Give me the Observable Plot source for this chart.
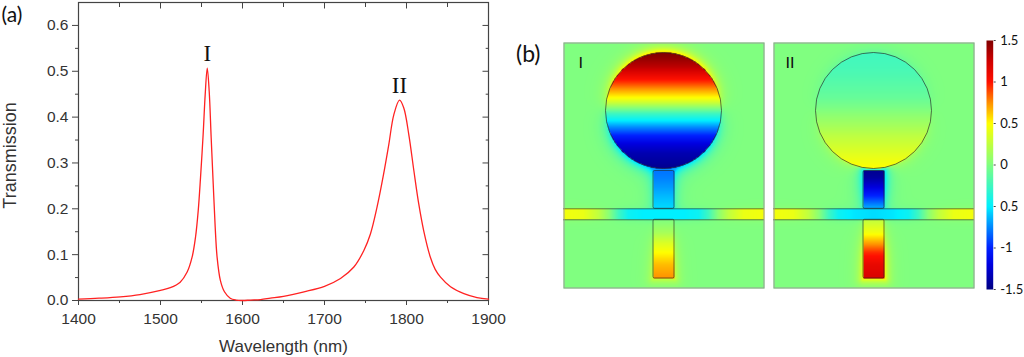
<!DOCTYPE html>
<html><head><meta charset="utf-8">
<script src="https://cdn.jsdelivr.net/npm/d3@7"></script>
<script src="https://cdn.jsdelivr.net/npm/@observablehq/plot@0.6"></script>
<style>
html,body{margin:0;padding:0;background:#fff;}
#root{position:relative;width:1024px;height:357px;overflow:hidden;background:#fff;}
#root > svg{position:absolute;overflow:visible;}
.lab{position:absolute;font-family:Lato,"Open Sans",sans-serif;color:#111;line-height:1;}
</style></head><body><div id="root"></div>
<script>
// ---------------- panel (a): transmission spectrum ----------------
const wavelength = [1400,1425,1451,1475,1500,1512,1524,1532.5,1538.6,1542.7,1546,1548.8,1552,1554.5,1557,1559.4,1561.8,1564.3,1566.7,1569,1573,1578,1585,1592,1600,1610,1622,1634,1650,1675,1700,1719.5,1735.8,1748,1756,1764,1772,1778.4,1784.5,1791.5,1796.7,1802.8,1809,1815,1821,1829,1835,1841.5,1853.7,1870,1886,1900];
const transmission = [0.003,0.005,0.008,0.013,0.022,0.028,0.040,0.062,0.095,0.138,0.196,0.268,0.362,0.449,0.507,0.456,0.355,0.254,0.160,0.095,0.044,0.019,0.005,0.001,0.0,0.001,0.002,0.005,0.009,0.019,0.031,0.048,0.073,0.109,0.145,0.203,0.275,0.340,0.405,0.437,0.420,0.362,0.283,0.210,0.152,0.095,0.068,0.051,0.030,0.015,0.0065,0.003];
const peakLabels = ["I","II"];
const peakWavelength = [1557, 1791.5];
const peakTransmission = [0.507, 0.437];
const xMajorTicks = [1400,1500,1600,1700,1800,1900];
const xMinorTicks = [1450,1550,1650,1750,1850];
const yMajorTicks = [0,0.1,0.2,0.3,0.4,0.5,0.6];
const yMinorTicks = [0.05,0.15,0.25,0.35,0.45,0.55];
const xTitle = "Wavelength (nm)";
const yTitle = "Transmission";

// ---------------- panel (b): field maps (map units = 200 x 245) ----------------
const circleCenter = [100, 68];
const circleRadius = 58;
const upperStem = [90, 111, 128.5, 166.3];   // x1,x2,y1,y2
const guideY = [166.3, 177.3];
const lowerStem = [90, 111, 177.3, 236];
// read field profiles
const circleY   = [10, 15, 25, 31, 41, 48, 55, 60, 65, 71, 78, 85, 93, 101, 111, 126];
const circleI   = [1.5, 1.45, 1.3, 1.15, 0.9, 0.7, 0.5, 0.3, 0.05, -0.25, -0.5, -0.75, -1.0, -1.2, -1.35, -1.45];
const circleII  = [-0.25, -0.24, -0.22, -0.2, -0.16, -0.13, -0.1, -0.06, -0.02, 0.04, 0.1, 0.16, 0.24, 0.3, 0.38, 0.5];
const upperY    = [128, 135, 145, 155, 166];
const upperI    = [-0.8, -0.77, -0.7, -0.62, -0.55];
const upperII   = [-1.45, -1.4, -1.2, -0.95, -0.65];
const guideX    = [0, 20, 35, 45, 55, 65, 80, 100, 120, 135, 145, 155, 165, 180, 200];
const guideI    = [0.45, 0.42, 0.25, 0.05, -0.25, -0.45, -0.5, -0.5, -0.5, -0.45, -0.25, 0.05, 0.25, 0.42, 0.45];
const guideII   = [0.45, 0.42, 0.25, 0.05, -0.25, -0.45, -0.52, -0.55, -0.52, -0.45, -0.25, 0.05, 0.25, 0.42, 0.45];
const lowerY    = [177, 190, 200, 210, 222, 236];
const lowerI    = [0.0, 0.15, 0.35, 0.5, 0.65, 0.75];
const lowerII   = [0.25, 0.45, 0.7, 0.95, 1.12, 1.2];
const mapLabels = ["I", "II"];

// colour bar
const colorStops = [-1.5, -1.2, -1.0, -0.5, 0, 0.5, 0.75, 1.0, 1.25, 1.5];
const colorRange = ["#000080","#0000e0","#0020ff","#00f0ff","#80ff80","#ffff00","#ff9000","#ff1000","#d00000","#800000"];
const colorTicks = [1.5, 1, 0.5, 0, -0.5, -1, -1.5];
const colorTickLabels = ["1.5","1","0.5","0","0.5","-1","-1.5"];

// ---------------- build ----------------
const root = document.getElementById("root");
const sans = "'Liberation Sans', Arial, sans-serif";

const spectrum = wavelength.map((w, i) => ({w, t: transmission[i]}));
const peaks = peakLabels.map((l, i) => ({l, w: peakWavelength[i], t: peakTransmission[i]}));
const blank = () => "";

const plotA = Plot.plot({
  width: 520, height: 357,
  marginLeft: 78, marginRight: 32, marginTop: 2, marginBottom: 57,
  style: {fontFamily: sans, fontSize: "15.5px", color: "#333", background: "transparent", overflow: "visible"},
  x: {domain: [1400, 1900]},
  y: {domain: [0, 0.65]},
  marks: [
    Plot.axisX({ticks: xMajorTicks, tickSize: 5, tickPadding: 7, tickFormat: "d", label: null, stroke: "#444"}),
    Plot.axisX({ticks: xMinorTicks, tickSize: 3, tickFormat: blank, label: null, stroke: "#444"}),
    Plot.axisX({anchor: "top", ticks: xMajorTicks, tickSize: 5.5, dy: 5.5, tickFormat: blank, label: null, stroke: "#444"}),
    Plot.axisX({anchor: "top", ticks: xMinorTicks, tickSize: 4, dy: 4, tickFormat: blank, label: null, stroke: "#444"}),
    Plot.axisY({ticks: yMajorTicks, tickSize: 6, tickPadding: 4, tickFormat: d3.format(".1f"), label: null, stroke: "#444"}),
    Plot.axisY({ticks: yMinorTicks, tickSize: 3, tickFormat: blank, label: null, stroke: "#444"}),
    Plot.axisY({anchor: "right", ticks: yMajorTicks, tickSize: 6.5, dx: -6.5, tickFormat: blank, label: null, stroke: "#444"}),
    Plot.axisY({anchor: "right", ticks: yMinorTicks, tickSize: 3.3, dx: -3.3, tickFormat: blank, label: null, stroke: "#444"}),
    Plot.frame({stroke: "#444", strokeWidth: 1.2}),
    Plot.line(spectrum, {x: "w", y: "t", stroke: "#ff2222", strokeWidth: 1.3, curve: "catmull-rom"}),
    Plot.text(peaks, {x: "w", y: "t", text: "l", lineAnchor: "bottom", dy: -7,
      fontFamily: "'Liberation Serif', 'Times New Roman', serif", fontSize: 23, fill: "#111"}),
    Plot.text([yTitle], {frameAnchor: "left", text: d => d, rotate: -90, dx: -68.5, dy: 4,
      textAnchor: "middle", lineAnchor: "middle", fontSize: 18, fill: "#333"}),
    Plot.text([xTitle], {frameAnchor: "bottom", text: d => d, dy: 46.5,
      textAnchor: "middle", lineAnchor: "middle", fontSize: 17, fill: "#333"}),
    Plot.text(["(a)"], {frameAnchor: "top-left", text: d => d, dx: -77, dy: 19,
      textAnchor: "start", lineAnchor: "bottom", fontFamily: "Lato, 'Open Sans', sans-serif", fontSize: 21, fill: "#111"})
  ]
});
plotA.style.left = "0px"; plotA.style.top = "0px";
root.appendChild(plotA);

// field rendering helpers
function lookup(xs, vs, t) {
  if (t <= xs[0]) return vs[0];
  for (let i = 1; i < xs.length; i++) {
    if (t <= xs[i]) { const u = (t - xs[i-1]) / (xs[i] - xs[i-1]); return vs[i-1] + u * (vs[i] - vs[i-1]); }
  }
  return vs[vs.length - 1];
}
function rectDist(r, x, y) {
  const dx = Math.max(r[0] - x, 0, x - r[1]);
  const dy = Math.max(r[2] - y, 0, y - r[3]);
  return Math.hypot(dx, dy);
}
function field(m, x, y) {
  const dxc = x - circleCenter[0], dyc = y - circleCenter[1];
  const dc = Math.hypot(dxc, dyc);
  if (dc <= circleRadius) return lookup(circleY, m.circle, y);
  if (x >= upperStem[0] && x <= upperStem[1] && y >= upperStem[2] && y <= upperStem[3]) return lookup(upperY, m.upper, y);
  if (y >= guideY[0] && y <= guideY[1]) return lookup(guideX, m.guide, x);
  if (x >= lowerStem[0] && x <= lowerStem[1] && y >= lowerStem[2] && y <= lowerStem[3]) return lookup(lowerY, m.lower, y);
  let v = 0;
  const by = circleCenter[1] + circleRadius * dyc / dc;
  v += lookup(circleY, m.circle, by) * 0.42 * Math.exp(-(dc - circleRadius) / 5);
  const du = rectDist(upperStem, x, y);
  v += lookup(upperY, m.upper, Math.min(Math.max(y, upperStem[2]), upperStem[3])) * 0.42 * Math.exp(-du / 5);
  const dl = rectDist(lowerStem, x, y);
  v += lookup(lowerY, m.lower, Math.min(Math.max(y, lowerStem[2]), lowerStem[3])) * 0.42 * Math.exp(-dl / 4.5);
  const dg = y < guideY[0] ? guideY[0] - y : y - guideY[1];
  v += lookup(guideX, m.guide, x) * 0.12 * Math.exp(-dg / 3);
  return Math.max(-1.5, Math.min(1.5, v));
}
const colorScale = {type: "linear", domain: colorStops, range: colorRange, interpolate: "rgb", clamp: true};

const maps = [
  {label: mapLabels[0], circle: circleI, upper: upperI, guide: guideI, lower: lowerI, left: 563, dx: 15},
  {label: mapLabels[1], circle: circleII, upper: upperII, guide: guideII, lower: lowerII, left: 773, dx: 12}
];
for (const m of maps) {
  const p = Plot.plot({
    width: 201, height: 246, margin: 0,
    style: {fontFamily: "Lato, 'Open Sans', sans-serif", background: "transparent"},
    x: {domain: [0, 201], range: [0, 201], axis: null},
    y: {domain: [0, 246], range: [0, 246], axis: null},
    color: colorScale,
    marks: [
      Plot.raster({x1: 0, x2: 201, y1: 0, y2: 246, width: 201, height: 246, fill: (x, y) => field(m, x, y)}),
      Plot.dot([circleCenter], {x: d => d[0], y: d => d[1], r: circleRadius, fill: "none", stroke: "#222", strokeWidth: 0.8, strokeOpacity: 0.8}),
      Plot.rect([upperStem, lowerStem], {x1: d => d[0], x2: d => d[1], y1: d => d[2], y2: d => d[3], fill: "none", stroke: "#222", strokeWidth: 0.8, strokeOpacity: 0.75, rx: 1.5}),
      Plot.ruleY(guideY, {stroke: "#222", strokeWidth: 0.8, strokeOpacity: 0.75}),
      Plot.frame({stroke: "#999", strokeWidth: 1, inset: 0.5}),
      Plot.text([m.label], {frameAnchor: "top-left", text: d => d, dx: m.dx, dy: 14, textAnchor: "start", lineAnchor: "top", fontSize: 16, fill: "#111"})
    ]
  });
  p.style.left = m.left + "px"; p.style.top = "41.5px";
  root.appendChild(p);
}

// colour bar
const cbar = Plot.plot({
  width: 44, height: 300,
  marginLeft: 6, marginRight: 31.3, marginTop: 40, marginBottom: 11,
  style: {fontFamily: "Lato, 'Open Sans', sans-serif", fontSize: "13px", color: "#111", background: "transparent", overflow: "visible"},
  x: {domain: [0, 1], axis: null},
  y: {domain: [-1.5, 1.5]},
  color: colorScale,
  marks: [
    Plot.raster({x1: 0, x2: 1, y1: -1.5, y2: 1.5, width: 1, height: 250, fill: (x, y) => y}),
    Plot.axisY({anchor: "right", ticks: colorTicks, tickSize: 2, tickPadding: 5, label: null, stroke: "#444",
      tickFormat: d => colorTickLabels[colorTicks.indexOf(d)]})
  ]
});
cbar.style.left = "980px"; cbar.style.top = "0px";
root.appendChild(cbar);

const lb = document.createElement("div");
lb.className = "lab"; lb.textContent = "(b)";
lb.style.left = "516px"; lb.style.top = "42px"; lb.style.fontSize = "23px";
root.appendChild(lb);
</script></body></html>
